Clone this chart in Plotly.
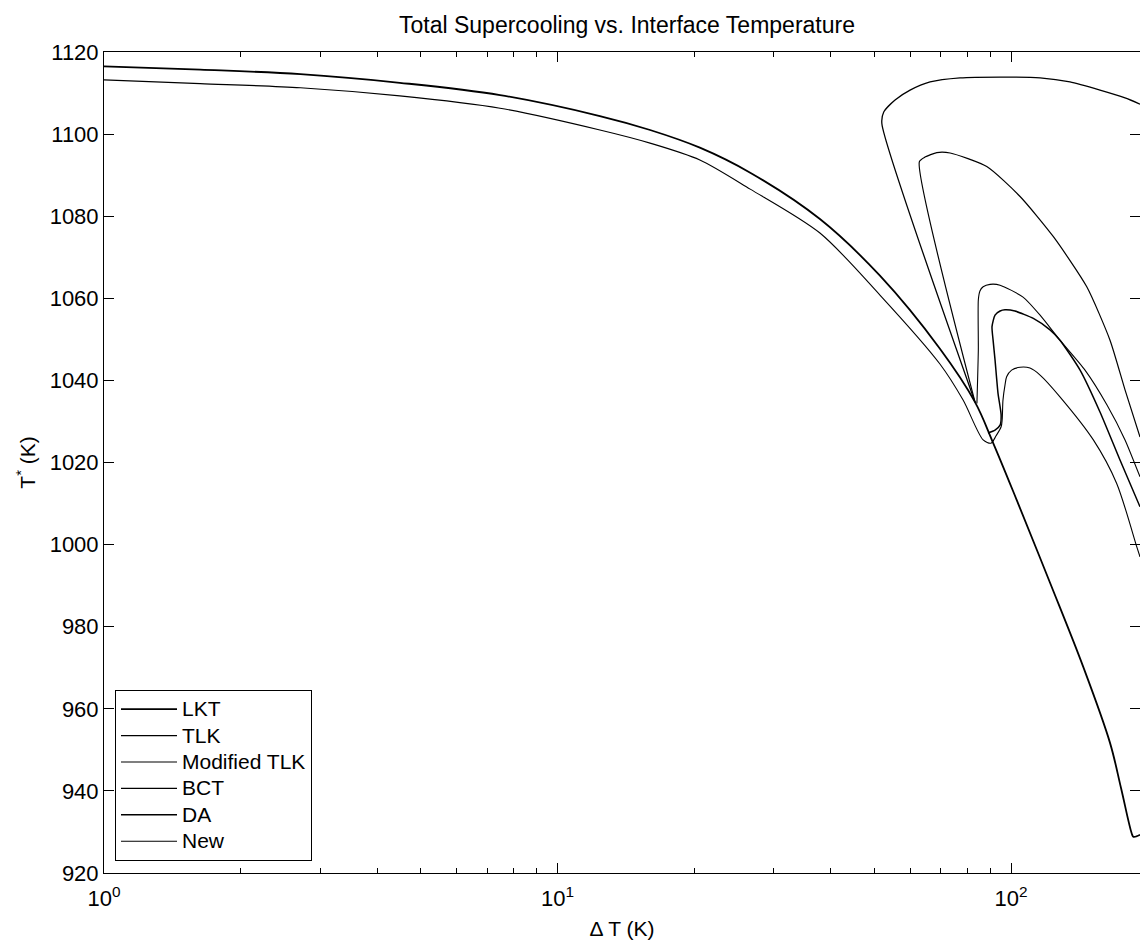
import plotly.graph_objects as go

# ---- data (ΔT in K, T* in K) ----
lkt_dT = [1.0, 1.63, 2.71, 4.49, 7.47, 12.4, 16.0, 20.6, 26.6, 37.9, 51.4, 69.7, 83.3,
          91.3, 102.9, 121.9, 144.3, 165.3, 174.8, 184.5, 186.2, 192.5]
lkt_T = [1116.5, 1115.7, 1114.6, 1112.5, 1109.5, 1104.4, 1101.0, 1096.7, 1090.6, 1079.3,
         1065.5, 1047.7, 1034.7, 1024.8, 1010.9, 990.7, 970.2, 951.7, 940.7, 929.7, 928.8, 929.3]

tlk_dT = [83.3, 51.9, 52.4, 55.5, 59.9, 66.3, 77.2, 94.6, 115.9, 134.9, 157.1, 178.4, 192.5]
tlk_T = [1034.7, 1102.6, 1105.4, 1108.3, 1110.7, 1112.7, 1113.7, 1113.9, 1113.7, 1112.7,
         1110.7, 1108.8, 1107.3]

mtlk_dT = [83.3, 62.8, 64.6, 68.6, 73.4, 88.4, 104.7, 124.0, 146.9, 165.3, 178.4, 192.5]
mtlk_T = [1034.7, 1093.3, 1094.4, 1095.5, 1095.4, 1092.1, 1084.8, 1075.0, 1062.8, 1049.8,
          1037.7, 1026.2]

bct_dT = [84.1, 84.7, 84.7, 85.4, 86.8, 89.9, 94.6, 106.3, 115.9, 128.2, 145.6, 162.8, 178.4, 192.5]
bct_T = [1034.4, 1047.4, 1059.6, 1061.8, 1062.8, 1063.4, 1063.2, 1060.3, 1055.9, 1049.8,
         1042.5, 1034.0, 1025.5, 1016.5]

da_dT = [89.0, 92.2, 94.6, 95.1, 93.6, 92.2, 91.3, 90.8, 92.2, 94.6, 97.0, 102.0, 112.0,
         121.9, 128.2, 142.0, 157.1, 173.9, 192.5]
da_T = [1027.2, 1027.9, 1029.1, 1031.6, 1036.9, 1045.0, 1049.8, 1053.1, 1055.9, 1056.9,
        1057.2, 1056.9, 1055.1, 1052.3, 1049.8, 1042.5, 1032.3, 1020.6, 1009.2]

new_dT = [1.0, 1.63, 2.71, 4.49, 7.47, 12.4, 16.0, 20.6, 26.6, 37.9, 51.4, 69.7, 78.4, 86.8,
          90.3, 92.7, 95.1, 95.6, 96.0, 97.0, 97.8, 100.3, 104.7, 110.1, 115.9, 128.2, 151.9,
          171.0, 189.3, 192.5]
new_T = [1113.2, 1112.3, 1111.3, 1109.3, 1106.3, 1101.0, 1097.8, 1093.7, 1086.6, 1075.9,
         1060.8, 1044.0, 1035.2, 1025.5, 1024.7, 1026.5, 1028.7, 1030.4, 1035.2, 1038.9,
         1040.9, 1042.5, 1043.2, 1043.0, 1041.3, 1036.0, 1025.5, 1014.9, 999.5, 997.0]

series_names = ["LKT", "TLK", "Modified TLK", "BCT", "DA", "New"]
series_x = [lkt_dT, tlk_dT, mtlk_dT, bct_dT, da_dT, new_dT]
series_y = [lkt_T, tlk_T, mtlk_T, bct_T, da_T, new_T]
series_w = [1.8, 1.3, 1.2, 1.1, 1.5, 1.1]
series_smooth = [1.0, 0.6, 0.6, 0.6, 0.6, 0.8]

x_major = [1, 10, 100]
x_major_text = ["10<sup>0</sup>", "10<sup>1</sup>", "10<sup>2</sup>"]
x_minor = [2, 3, 4, 5, 6, 7, 8, 9, 20, 30, 40, 50, 60, 70, 80, 90, 200]
y_ticks = [920, 940, 960, 980, 1000, 1020, 1040, 1060, 1080, 1100, 1120]

FONT = "Liberation Sans, Arial, Helvetica, sans-serif"

fig = go.Figure()
for name, xs, ys, w, sm in zip(series_names, series_x, series_y, series_w, series_smooth):
    fig.add_trace(go.Scatter(
        x=xs, y=ys, mode="lines",
        name='<span style="font-size:21px">' + name + "</span>",
        line=dict(color="black", width=w, shape="spline", smoothing=sm)))

fig.update_layout(
    width=1140, height=943,
    margin=dict(l=104, r=0, t=52, b=70),
    paper_bgcolor="white", plot_bgcolor="white",
    font=dict(family=FONT, size=22, color="black"),
    title=dict(text="Total Supercooling vs. Interface Temperature",
               x=627 / 1140, xanchor="center", xref="container",
               y=1 - 25 / 943, yanchor="middle",
               font=dict(family=FONT, size=23, color="black")),
    showlegend=True,
    legend=dict(x=(115 - 104) / 1036, y=(873 - 861) / 821, xanchor="left", yanchor="bottom",
                bgcolor="white", bordercolor="black", borderwidth=1,
                font=dict(family=FONT, size=18, color="black"),
                itemwidth=56, tracegroupgap=0),
)

fig.update_xaxes(
    type="log", range=[0, 2.2844],
    showline=True, linecolor="black", linewidth=1, mirror="ticks",
    showgrid=False, zeroline=False,
    tickmode="array", tickvals=x_major, ticktext=x_major_text,
    ticks="inside", ticklen=10, tickcolor="black", tickwidth=1,
    ticklabelstandoff=6,
    minor=dict(tickmode="array", tickvals=x_minor, ticks="inside", ticklen=5,
               tickcolor="black", tickwidth=1, showgrid=False),
    tickfont=dict(family=FONT, size=22, color="black"),
    title=dict(text="Δ T (K)", font=dict(family=FONT, size=21, color="black"), standoff=10),
)
fig.update_yaxes(
    range=[920, 1120],
    showline=True, linecolor="black", linewidth=1, mirror="ticks",
    showgrid=False, zeroline=False,
    tickmode="array", tickvals=y_ticks,
    ticks="inside", ticklen=10, tickcolor="black", tickwidth=1,
    tickfont=dict(family=FONT, size=22, color="black"),
    title=dict(text="T<sup>*</sup> (K)", font=dict(family=FONT, size=21, color="black"), standoff=8),
)

fig.write_html("out.html")
